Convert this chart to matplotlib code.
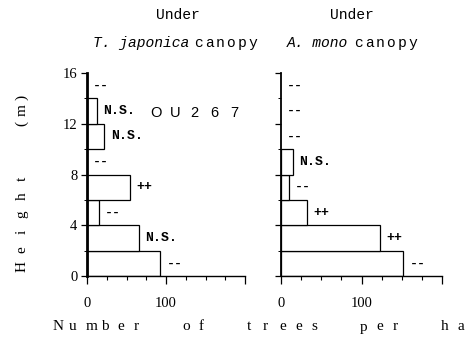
import matplotlib
matplotlib.use("Agg")
import matplotlib.pyplot as plt
import numpy as np

W, H = 474, 345

# Height classes (m), lower bounds of 2-m classes
class_bottoms = [0, 2, 4, 6, 8, 10, 12, 14]

# Number of trees per ha in each height class
japonica_counts = [93, 66, 15, 54, 0, 22, 13, 0]
mono_counts = [152, 123, 32, 10, 15, 0, 0, 0]

# Significance marks per class
japonica_marks = ["--", "N.S.", "--", "++", "--", "N.S.", "N.S.", "--"]
mono_marks = ["--", "++", "++", "--", "N.S.", "--", "--", "--"]

xticks_major = [0, 100, 200]
xtick_labels = ["0", "100", ""]
yticks_major = [0, 4, 8, 12, 16]

mono_font = "Liberation Mono"
serif_font = "Liberation Serif"

fig = plt.figure(figsize=(W / 100, H / 100), dpi=100)
fig.patch.set_facecolor("white")


def fx(x):
    return x / W


def fy(y):
    return 1 - y / H


def spaced(x0, y, s, pitch, **kw):
    """Draw a string one character at a time with a fixed pitch (pixels)."""
    for i, ch in enumerate(s):
        if ch != " ":
            fig.text(fx(x0 + pitch * i), fy(y), ch, ha="left", va="center", **kw)


def panel(left_px, right_px, counts, marks, show_ylabels, spine_w):
    ax = fig.add_axes([fx(left_px), fy(276), (right_px - left_px) / W, (276 - 73) / H])
    ax.set_xlim(0, 200)
    ax.set_ylim(0, 16)
    for side in ("top", "right"):
        ax.spines[side].set_visible(False)
    ax.spines["left"].set_linewidth(spine_w)
    ax.spines["bottom"].set_linewidth(1.0)

    for b, v in zip(class_bottoms, counts):
        if v > 0:
            ax.barh(b + 1, v, height=2, color="white", edgecolor="black",
                    linewidth=0.9, zorder=2)

    for b, v, m in zip(class_bottoms, counts, marks):
        ax.annotate(m, xy=(v, b + 1), xytext=(4.5, 0), textcoords="offset points",
                    ha="left", va="center", fontsize=9.5, family=mono_font,
                    fontweight="bold", zorder=3)

    ax.set_xticks(xticks_major)
    ax.set_xticklabels(xtick_labels, family=serif_font, fontsize=10.5)
    ax.set_xticks(np.arange(0, 201, 25), minor=True)
    ax.tick_params(axis="x", which="major", direction="out", length=6, width=0.9, pad=9)
    ax.tick_params(axis="x", which="minor", direction="out", length=3, width=0.8)

    ax.set_yticks(yticks_major)
    ax.set_yticks(np.arange(0, 17, 2), minor=True)
    if show_ylabels:
        ax.set_yticklabels([str(t) for t in yticks_major], family=serif_font, fontsize=10.5)
    else:
        ax.set_yticklabels([])
    ax.tick_params(axis="y", which="major", direction="out", length=4, width=0.9, pad=3)
    ax.tick_params(axis="y", which="minor", direction="out", length=2.5, width=0.7)
    return ax


ax1 = panel(87, 245, japonica_counts, japonica_marks, True, 2.0)
ax2 = panel(281, 442, mono_counts, mono_marks, False, 1.3)

# Panel headings
fig.text(fx(178), fy(15), "Under", ha="center", va="center", family=mono_font, fontsize=10.5)
fig.text(fx(352), fy(15), "Under", ha="center", va="center", family=mono_font, fontsize=10.5)
fig.text(fx(189), fy(43), "T. japonica", ha="right", va="center", family=mono_font,
         fontsize=10.5, style="italic")
spaced(194, 43, "canopy", 10.8, family=mono_font, fontsize=10.5)
fig.text(fx(348), fy(43), "A. mono", ha="right", va="center", family=mono_font,
         fontsize=10.5, style="italic")
spaced(354, 43, "canopy", 10.8, family=mono_font, fontsize=10.5)

# Sample stamp next to the 10-12 m class
spaced(150, 113, "OU267", 20, family="Liberation Sans", fontsize=10.5)

# Letter-spaced axis titles
spaced(53, 327, "Number  of  trees  per  ha", 16.16, family=serif_font, fontsize=11)

for i, ch in enumerate("Height"):
    fig.text(fx(22), fy(267 - 17.6 * i), ch, ha="center", va="center",
             family=serif_font, fontsize=11, rotation=90)
for i, ch in enumerate("(m)"):
    fig.text(fx(22), fy(123 - 13 * i), ch, ha="center", va="center",
             family=serif_font, fontsize=11, rotation=90)

fig.savefig("out.png", dpi=100, facecolor="white")
